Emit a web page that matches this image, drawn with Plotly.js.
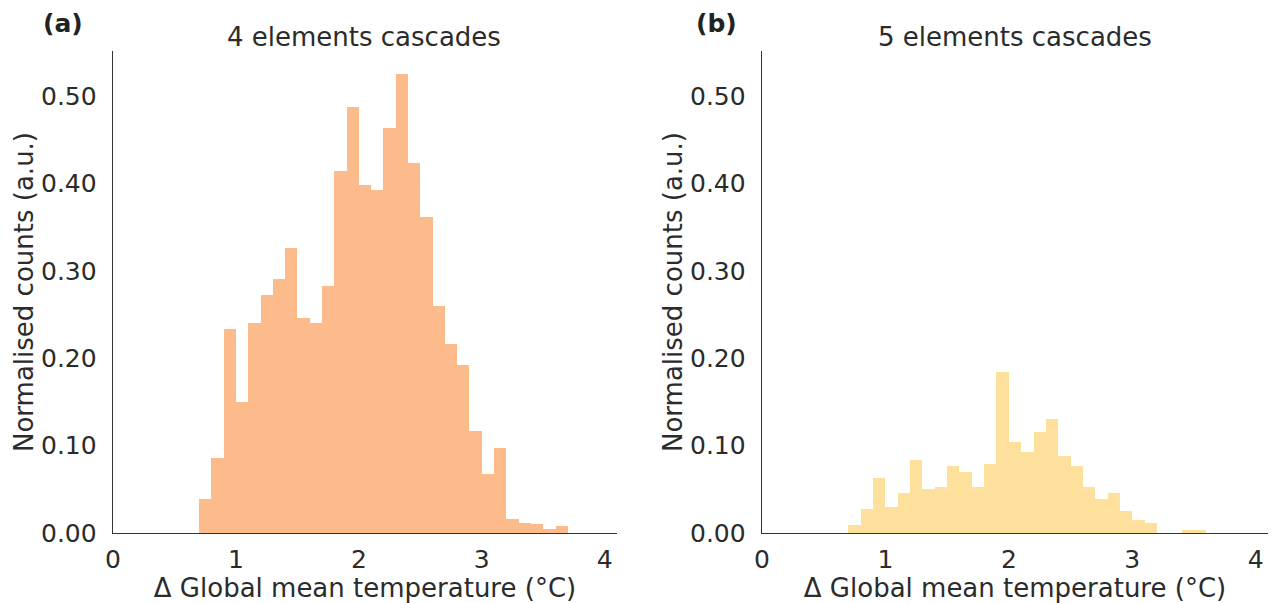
<!DOCTYPE html>
<html>
<head>
<meta charset="utf-8">
<script src="https://cdn.plot.ly/plotly-3.0.1.min.js"></script>
<style>html,body{margin:0;padding:0;background:#fff;}#chart{width:1277px;height:603px;}</style>
</head>
<body>
<div id="chart"></div>
<script>
// Bin centres (Δ global mean temperature, °C), bin width 0.1
const binCenters = [0.75,0.85,0.95,1.05,1.15,1.25,1.35,1.45,1.55,1.65,1.75,1.85,1.95,2.05,2.15,2.25,2.35,2.45,2.55,2.65,2.75,2.85,2.95,3.05,3.15,3.25,3.35,3.45,3.55,3.65];
const binWidth = 0.1;
// Normalised counts, 4 elements cascades
const counts4 = [0.039,0.086,0.234,0.150,0.240,0.272,0.291,0.326,0.246,0.240,0.283,0.414,0.488,0.398,0.393,0.464,0.525,0.423,0.362,0.260,0.216,0.192,0.117,0.067,0.097,0.016,0.012,0.010,0.005,0.008];
// Normalised counts, 5 elements cascades
const counts5 = [0.009,0.027,0.063,0.030,0.046,0.083,0.050,0.053,0.077,0.070,0.053,0.079,0.184,0.104,0.093,0.116,0.130,0.088,0.077,0.053,0.039,0.046,0.025,0.015,0.012,0,0,0.003,0.003,0];
const titles = ["4 elements cascades", "5 elements cascades"];
const panelLabels = ["(a)", "(b)"];
const xTickVals = [0,1,2,3,4];
const yTickVals = [0,0.1,0.2,0.3,0.4,0.5];
const xTitle = "Δ Global mean temperature (°C)";
const yTitle = "Normalised counts (a.u.)";

const FONT = "DejaVu Sans, sans-serif";
const TXT = "#2b2b2b";

const traces = [
  {type:'bar', x:binCenters, y:counts4, width:binWidth, xaxis:'x', yaxis:'y',
   marker:{color:'#fdba8b', line:{width:0}}, hoverinfo:'x+y'},
  {type:'bar', x:binCenters, y:counts5, width:binWidth, xaxis:'x2', yaxis:'y2',
   marker:{color:'#fde09c', line:{width:0}}, hoverinfo:'x+y'}
];

function xax(domain, anchor){
  return {domain:domain, anchor:anchor, range:[0,4.1], tickvals:xTickVals, ticktext:xTickVals.map(String),
    showgrid:false, zeroline:false, showline:true, linecolor:'#333', linewidth:1.3,
    ticks:'outside', ticklen:4, tickcolor:'rgba(0,0,0,0)',
    tickfont:{family:FONT, size:25, color:TXT},
    title:{text:xTitle, font:{family:FONT, size:26, color:TXT}, standoff:0}};
}
function yax(domain, anchor){
  return {domain:domain, anchor:anchor, range:[0,0.5516], tickvals:yTickVals, ticktext:yTickVals.map(v=>v.toFixed(2)),
    showgrid:false, zeroline:false, showline:true, linecolor:'#333', linewidth:1.3,
    ticks:'outside', ticklen:10, tickcolor:'rgba(0,0,0,0)',
    tickfont:{family:FONT, size:25, color:TXT},
    title:{text:yTitle, font:{family:FONT, size:26, color:TXT}, standoff:0}};
}

const yDom = [(603-533)/603, (603-51)/603];
const layout = {
  width:1277, height:603, margin:{l:0,r:0,t:0,b:0},
  paper_bgcolor:'#fff', plot_bgcolor:'#fff', showlegend:false, bargap:0,
  xaxis: xax([113/1277, 617/1277], 'y'),
  yaxis: yax(yDom, 'x'),
  xaxis2: xax([762/1277, 1268/1277], 'y2'),
  yaxis2: yax(yDom, 'x2'),
  annotations: [
    {text:titles[0], xref:'paper', yref:'paper', x:364/1277, y:1-37/603, xanchor:'center', yanchor:'middle', showarrow:false, font:{family:FONT, size:26, color:TXT}},
    {text:titles[1], xref:'paper', yref:'paper', x:1015/1277, y:1-37/603, xanchor:'center', yanchor:'middle', showarrow:false, font:{family:FONT, size:26, color:TXT}},
    {text:'<b>'+panelLabels[0]+'</b>', xref:'paper', yref:'paper', x:63/1277, y:1-23/603, xanchor:'center', yanchor:'middle', showarrow:false, font:{family:FONT, size:25, color:'#222'}},
    {text:'<b>'+panelLabels[1]+'</b>', xref:'paper', yref:'paper', x:716/1277, y:1-23/603, xanchor:'center', yanchor:'middle', showarrow:false, font:{family:FONT, size:25, color:'#222'}}
  ]
};
Plotly.newPlot('chart', traces, layout, {displayModeBar:false, staticPlot:true});
</script>
</body>
</html>
